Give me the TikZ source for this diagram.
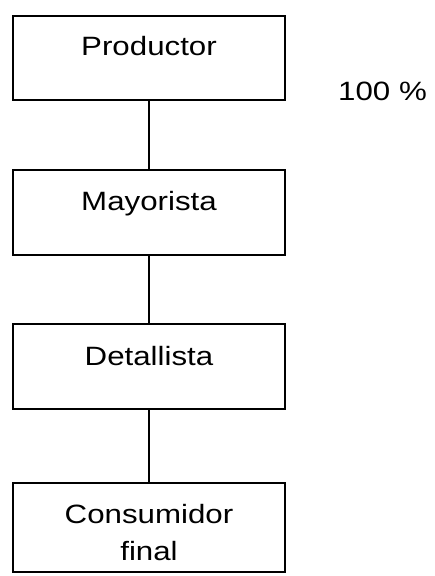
\documentclass[tikz,border=0pt]{standalone}
\usepackage{fontspec}
\setmainfont{Liberation Sans}[FakeStretch=1.18]
\begin{document}
\begin{tikzpicture}[x=1pt,y=-1pt,
  box/.style={draw,line width=1.3pt,rectangle,minimum width=272pt,inner sep=0pt},
  lbl/.style={anchor=base,inner sep=0pt,font=\fontsize{26.5}{37}\selectfont},
  link/.style={line width=1.3pt}]
\useasboundingbox (0,0) rectangle (435,576);
\node[box,minimum height=84pt] (p) at (149,58) {};
\node[box,minimum height=85pt] (m) at (149,212.5) {};
\node[box,minimum height=85pt] (d) at (149,366.5) {};
\node[box,minimum height=89pt] (c) at (149,527.5) {};
\node[lbl] (pt) at (149,55) {Productor};
\node[lbl] (mt) at (149,210) {Mayorista};
\node[lbl] (dt) at (149,365) {Detallista};
\node[lbl] (ct1) at (149,523) {Consumidor};
\node[lbl] (ct2) at (149,560) {final};
\node[lbl,anchor=base west] (pc) at (338,100) {100 \%};
\draw[link] (p.south) -- (m.north);
\draw[link] (m.south) -- (d.north);
\draw[link] (d.south) -- (c.north);
\end{tikzpicture}
\end{document}
